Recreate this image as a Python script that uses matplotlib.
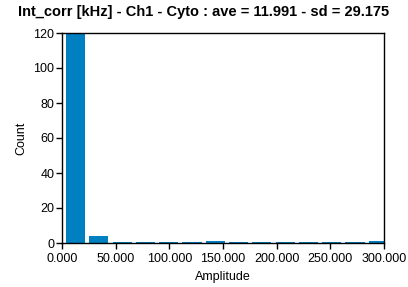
import numpy as np
import matplotlib.pyplot as plt

# histogram data
bin_start = 3.7
bin_width = 21.7
counts = [120, 4, 0, 0, 0, 0, 1, 0, 0, 0, 0, 0, 0, 1]
x_ticks = [0, 50, 100, 150, 200, 250, 300]
y_ticks = [0, 20, 40, 60, 80, 100, 120]
title = "Int_corr [kHz] - Ch1 - Cyto : ave = 11.991 - sd = 29.175"

bar_color = '#0080c0'
plt.rcParams['font.family'] = ['Liberation Sans', 'DejaVu Sans']

fig = plt.figure(figsize=(4.08, 2.87), dpi=100)
ax = fig.add_axes([62 / 408, 1 - 243 / 287, 322 / 408, 210 / 287])

# empty bins are still drawn as a thin sliver, like the original tool does
heights = np.maximum(np.array(counts, dtype=float), 0.6)
lefts = bin_start + bin_width * np.arange(len(counts))
ax.bar(lefts, heights, width=bin_width * 0.82, align='edge', color=bar_color,
       linewidth=0)

ax.set_xlim(0, 300)
ax.set_ylim(0, 120)
ax.set_xticks(x_ticks)
ax.set_xticklabels([f"{v:.3f}" for v in x_ticks])
ax.set_yticks(y_ticks)
ax.tick_params(direction='out', length=4, width=1, labelsize=9)
ax.tick_params(axis='x', pad=3.5)
ax.tick_params(axis='y', pad=1.5)
for s in ax.spines.values():
    s.set_linewidth(1)
    s.set_zorder(3)

ax.set_xlabel("Amplitude", fontsize=9, labelpad=4)
ax.set_ylabel("Count", fontsize=9, labelpad=4)
fig.text(0.5, 1 - 12 / 287, title, ha='center', va='center',
         fontsize=10.5, fontweight='bold')

fig.savefig("out.png", dpi=100)
